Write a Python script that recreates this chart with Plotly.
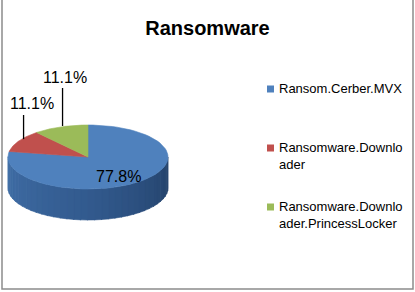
import numpy as np
import plotly.graph_objects as go

# ---- data ----
categories = ["Ransom.Cerber.MVX", "Ransomware.Downloader", "Ransomware.Downloader.PrincessLocker"]
legend_labels = ["Ransom.Cerber.MVX", "Ransomware.Downlo<br>ader", "Ransomware.Downlo<br>ader.PrincessLocker"]
counts = [7, 1, 1]
colors = ["#4F81BD", "#C0504D", "#9BBB59"]

W, H = 415, 292
# pie geometry (pixel space)
cx, cy, a, b, depth = 88, 157, 80, 32, 31

vals = np.array(counts, dtype=float)
frac = vals / vals.sum()
pct = [f"{p*100:.1f}%" for p in frac]
ends = np.cumsum(frac) * 360.0
starts = np.concatenate([[0.0], ends[:-1]])


def pt(theta_deg, r=1.0, dy=0.0):
    t = np.radians(theta_deg)
    return cx + r * a * np.sin(t), cy - r * b * np.cos(t) + dy


fig = go.Figure()


def lerp(c1, c2, t):
    return tuple(int(round(c1[i] + (c2[i] - c1[i]) * t)) for i in range(3))


# side wall (front half: 90 -> 270 deg), shaded strips
c_left = (64, 110, 166)
c_mid = (50, 90, 142)
c_right = (36, 66, 106)
nstrips = 36
edges = np.linspace(90, 270, nstrips + 1)
for i in range(nstrips):
    t0, t1 = edges[i], edges[i + 1]
    mid = (t0 + t1) / 2
    k = int(np.searchsorted(ends, mid))
    tt = i / (nstrips - 1)  # 0 at right, 1 at left
    if tt < 0.5:
        col = lerp(c_right, c_mid, tt / 0.5)
    else:
        col = lerp(c_mid, c_left, (tt - 0.5) / 0.5)
    if k != 0:
        base = np.array([int(colors[k][j:j + 2], 16) for j in (1, 3, 5)])
        col = tuple((base * 0.7).astype(int))
    colstr = f"rgb{col}"
    th = np.linspace(t0, t1 + 0.6, 6)
    xs_top, ys_top = pt(th)
    xs_bot, ys_bot = pt(th[::-1], dy=depth)
    xs = np.concatenate([xs_top, xs_bot, xs_top[:1]])
    ys = np.concatenate([ys_top, ys_bot, ys_top[:1]])
    fig.add_trace(go.Scatter(x=xs, y=ys, mode="lines", fill="toself",
                             fillcolor=colstr, line=dict(width=0.6, color=colstr),
                             hoverinfo="skip", showlegend=False))

# top face slices
for k in range(len(counts)):
    th = np.linspace(starts[k], ends[k], 80)
    xs, ys = pt(th)
    xs = np.concatenate([[cx], xs, [cx]])
    ys = np.concatenate([[cy], ys, [cy]])
    fig.add_trace(go.Scatter(x=xs, y=ys, mode="lines", fill="toself",
                             fillcolor=colors[k], line=dict(width=0.6, color=colors[k]),
                             hoverinfo="skip", showlegend=False, name=categories[k]))

# legend (drawn manually for exact placement)
leg_x_marker, leg_x_text = 270.5, 278
leg_rows = [89, 148, 207]
fig.add_trace(go.Scatter(x=[leg_x_marker] * len(counts), y=leg_rows, mode="markers",
                         marker=dict(symbol="square", size=7, color=colors, line=dict(width=0)),
                         hoverinfo="skip", showlegend=False))

annotations = []
leg_font = dict(family="Liberation Sans, Arial", size=13, color="#000")
for k in range(len(counts)):
    annotations.append(dict(x=leg_x_text, y=leg_rows[k] - 9.5, text=legend_labels[k],
                            showarrow=False, xref="x", yref="y", xanchor="left",
                            yanchor="top", align="left", font=leg_font, borderpad=0))

# data labels
annotations.append(dict(x=118, y=176, text=pct[0], showarrow=False,
                        font=dict(family="Liberation Sans, Arial", size=16, color="#000"),
                        xref="x", yref="y", xanchor="center", yanchor="middle"))
label_pos = {1: (32, 103, 115), 2: (65, 77, 88)}
shapes = []
for k, (lx, ly, ltop) in label_pos.items():
    midang = (starts[k] + ends[k]) / 2
    ax_, ay_ = pt(midang, r=0.93)
    shapes.append(dict(type="line", xref="x", yref="y", x0=ax_, y0=ay_ - 3, x1=ax_, y1=ltop,
                       line=dict(color="#000", width=1.3)))
    annotations.append(dict(x=lx, y=ly, text=pct[k], showarrow=False,
                            font=dict(family="Liberation Sans, Arial", size=16, color="#000"),
                            xref="x", yref="y", xanchor="center", yanchor="middle"))

# chart border
shapes.append(dict(type="rect", xref="x", yref="y", x0=2, y0=-5, x1=413, y1=289,
                   line=dict(color="#8c8c8c", width=1.5), fillcolor="rgba(0,0,0,0)"))

fig.update_layout(
    width=W, height=H, autosize=False,
    margin=dict(l=0, r=0, t=0, b=0, pad=0),
    paper_bgcolor="white", plot_bgcolor="white",
    xaxis=dict(range=[0, W], visible=False, fixedrange=True),
    yaxis=dict(range=[H, 0], visible=False, fixedrange=True),
    title=dict(text="<b>Ransomware</b>", x=0.5, xanchor="center", y=1 - 28 / H,
               yanchor="middle", font=dict(family="Liberation Sans, Arial", size=20, color="#000")),
    annotations=annotations,
    shapes=shapes,
    showlegend=False,
)

fig.write_html("out.html")
